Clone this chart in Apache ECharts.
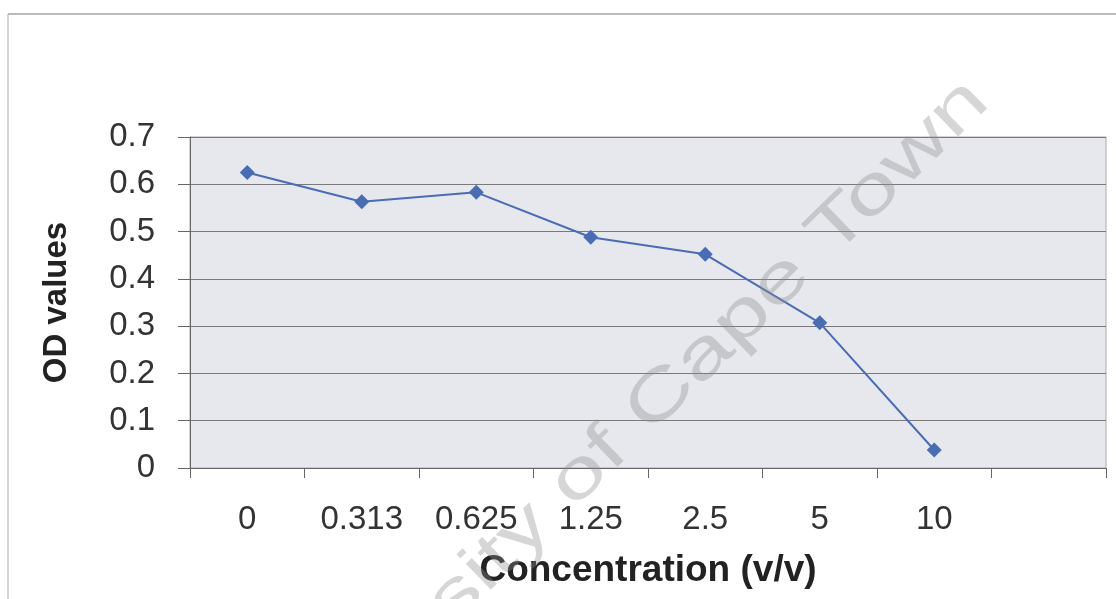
<!DOCTYPE html>
<html><head><meta charset="utf-8">
<script src="https://cdn.jsdelivr.net/npm/echarts@6/dist/echarts.min.js"></script>
<style>html,body{margin:0;padding:0;background:#fff}#c{width:1116px;height:599px}</style>
</head><body><div id="c"></div>
<script>
const categories = ['0','0.313','0.625','1.25','2.5','5','10',''];
const odValues = [0.625, 0.563, 0.583, 0.488, 0.452, 0.307, 0.038, null];
const yTicks = { min: 0, max: 0.7, interval: 0.1 };

const chart = echarts.init(document.getElementById('c'));
chart.setOption({
  animation: false,
  backgroundColor: '#fff',
  grid: { left: 190, right: 10, top: 137, bottom: 131, containLabel: false, outerBoundsMode: 'none',
          show: true, backgroundColor: '#e7e8ed', borderColor: '#aaa', borderWidth: 1 },
  graphic: [
    { type: 'line', shape: { x1: 8, y1: 14, x2: 1116, y2: 14 }, style: { stroke: '#777', lineWidth: 1 } },
    { type: 'line', shape: { x1: 8, y1: 14, x2: 8, y2: 599 }, style: { stroke: '#aaa', lineWidth: 1 } },
    { type: 'text', x: 610, y: 448, rotation: 0.77, scaleX: 1.4, scaleY: 1, z: 100,
      style: { text: 'University of Cape Town', font: '68px "Liberation Sans", Arial, sans-serif', fill: 'rgba(140,140,140,0.36)', align: 'center', verticalAlign: 'middle' } }
  ],
  xAxis: {
    type: 'category', data: categories, boundaryGap: true,
    name: 'Concentration (v/v)', nameLocation: 'middle', nameGap: 84,
    nameTextStyle: { fontFamily: 'Liberation Sans', fontWeight: 'bold', fontSize: 37, color: '#222' },
    axisLine: { lineStyle: { color: '#666' } },
    axisTick: { show: true, length: 10, alignWithLabel: false, lineStyle: { color: '#666' } },
    axisLabel: { fontFamily: 'Liberation Sans', fontSize: 33, color: '#333', margin: 35, interval: 0 }
  },
  yAxis: {
    type: 'value', min: yTicks.min, max: yTicks.max, interval: yTicks.interval,
    name: 'OD values', nameLocation: 'middle', nameGap: 117, nameRotate: 90,
    nameTextStyle: { fontFamily: 'Liberation Sans', fontWeight: 'bold', fontSize: 33, color: '#222' },
    axisLine: { show: true, lineStyle: { color: '#666' } },
    axisTick: { show: true, length: 12, lineStyle: { color: '#666' } },
    axisLabel: { fontFamily: 'Liberation Sans', fontSize: 33, color: '#333', margin: 35,
      formatter: v => (Math.round(v * 10) / 10).toString() },
    splitLine: { show: true, lineStyle: { color: '#7a7a7a', width: 1 } }
  },
  series: [{
    type: 'line', data: odValues, connectNulls: false,
    symbol: 'diamond', symbolSize: 15,
    lineStyle: { color: '#4a6cb3', width: 2 },
    itemStyle: { color: '#4a6cb3' }
  }]
});
</script></body></html>
